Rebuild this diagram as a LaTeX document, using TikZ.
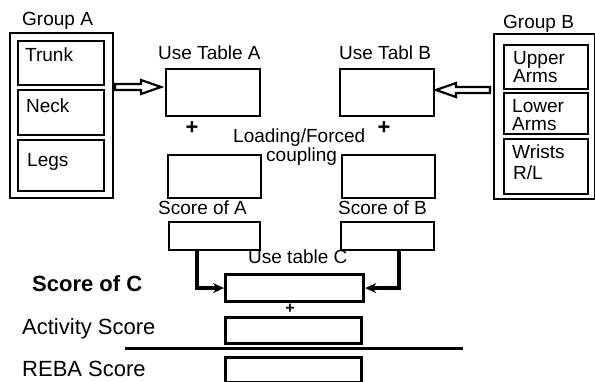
\documentclass[tikz,border=0pt]{standalone}
\usepackage{fontspec}
\setmainfont{Liberation Sans}
\usetikzlibrary{arrows.meta,calc}
\begin{document}
\begin{tikzpicture}[x=1pt,y=-1pt,
  box/.style={draw, line width=2pt, anchor=north west, inner sep=0pt},
  tbox/.style={draw, line width=3.2pt, anchor=north west, inner sep=0pt},
  lbl/.style={anchor=base west, inner sep=0pt, font=\fontsize{19}{20}\selectfont},
  big/.style={anchor=base west, inner sep=0pt, font=\fontsize{22}{24}\selectfont},
  plus/.style={inner sep=0pt, font=\fontsize{22}{24}\selectfont\bfseries},
  conn/.style={line width=4.5pt, line join=miter, -{Stealth[length=11pt,width=10pt]}},
  openarrow/.style={draw, line width=2.2pt, fill=white, line join=miter}
]
\useasboundingbox (0,0) rectangle (595,382);

% Group A
\node[lbl] (gAl) at (22,26) {Group A};
\node[box, minimum width=103pt, minimum height=165pt] (gA) at (9,32) {};
\node[box, minimum width=86pt, minimum height=44pt] (trunk) at (17,40) {};
\node[box, minimum width=86pt, minimum height=45pt] (neck) at (17,89) {};
\node[box, minimum width=86pt, minimum height=51pt] (legs) at (17,139) {};
\node[lbl] (trunkt) at (25,62) {Trunk};
\node[lbl] (neckt) at (26,113) {Neck};
\node[lbl] (legst) at (27,167) {Legs};

% Group B
\node[lbl] (gBl) at (503,29) {Group B};
\node[box, minimum width=101pt, minimum height=165pt] (gB) at (493,33) {};
\node[box, minimum width=84pt, minimum height=44pt] (upper) at (503,44) {};
\node[box, minimum width=84pt, minimum height=41pt] (lower) at (503,92) {};
\node[box, minimum width=84pt, minimum height=55pt] (wrist) at (503,138) {};
\node[lbl] (up1) at (513,65) {Upper};
\node[lbl] (up2) at (513,83) {Arms};
\node[lbl] (lo1) at (512,113) {Lower};
\node[lbl] (lo2) at (512,131) {Arms};
\node[lbl] (wr1) at (512,159) {Wrists};
\node[lbl] (wr2) at (513,180) {R/L};

% Tables A and B
\node[lbl] (tAl) at (158,60) {Use Table A};
\node[lbl] (tBl) at (339,60) {Use Tabl B};
\node[box, minimum width=94pt, minimum height=47pt] (tabA) at (165,68) {};
\node[box, minimum width=94pt, minimum height=47pt] (tabB) at (339,68) {};
\node[plus] (pA) at (192,128) {+};
\node[plus] (pB) at (384,128) {+};
\node[lbl] (ld1) at (233,143) {Loading/Forced};
\node[lbl] (ld2) at (266,162) {coupling};
\node[box, minimum width=93pt, minimum height=43pt] (loadA) at (167,154) {};
\node[box, minimum width=93pt, minimum height=43pt] (loadB) at (341,154) {};
\node[lbl] (sAl) at (158,215) {Score of A};
\node[lbl] (sBl) at (338,215) {Score of B};
\node[box, minimum width=91pt, minimum height=28pt] (scoreA) at (168,221) {};
\node[box, minimum width=93pt, minimum height=28pt] (scoreB) at (340,221) {};

% open arrows
\coordinate (atip) at (161,87);
\path[openarrow] (atip) -- ++(-20,-7) -- ++(0,4) -- ++(-26,0) -- ++(0,6) -- ++(26,0) -- ++(0,4) -- cycle;
\coordinate (btip) at (436,90);
\path[openarrow] (btip) -- ++(20,-7) -- ++(0,4) -- ++(34,0) -- ++(0,6) -- ++(-34,0) -- ++(0,4) -- cycle;

% Table C
\node[lbl] (tCl) at (248,264) {Use table C};
\node[tbox, minimum width=138pt, minimum height=27pt] (tabC) at (224,273) {};
\draw[conn] ($(scoreA.south west)+(29,0)$) |- (tabC.west);
\draw[conn] ($(scoreB.south east)+(-36,0)$) |- (tabC.east);
\node[big, font=\fontsize{22}{24}\selectfont\bfseries] (sCl) at (32,292) {Score of C};
\node[plus, font=\fontsize{16}{18}\selectfont\bfseries] (pC) at (290,309) {+};
\node[big] (actl) at (22,335) {Activity Score};
\node[tbox, minimum width=136pt, minimum height=26pt] (act) at (224,316) {};
\coordinate (hl1) at (125,349);
\coordinate (hl2) at (463,349);
\draw[line width=3pt] (hl1) -- (hl2);
\node[big] (rebal) at (22,377) {REBA Score};
\node[tbox, minimum width=136pt, minimum height=25pt] (reba) at (224,356) {};
\end{tikzpicture}
\end{document}
